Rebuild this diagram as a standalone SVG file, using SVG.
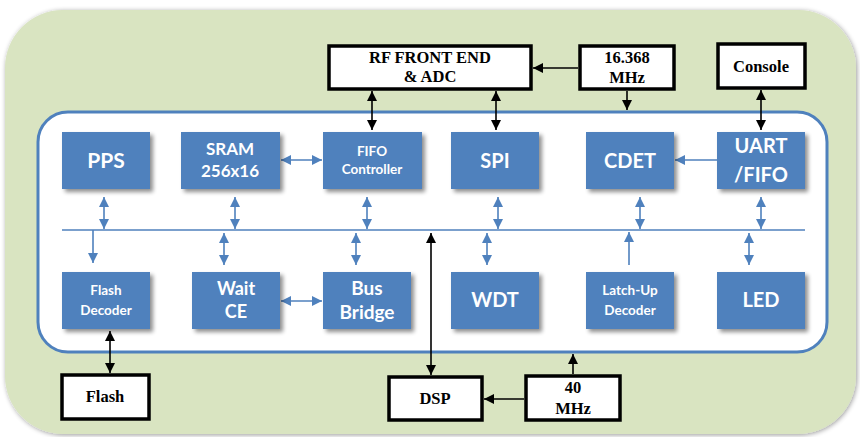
<svg xmlns="http://www.w3.org/2000/svg" width="860" height="437" viewBox="0 0 860 437">
<defs>
<filter id="sh" x="-20%" y="-20%" width="150%" height="150%"><feGaussianBlur in="SourceAlpha" stdDeviation="2"/><feOffset dx="3" dy="3"/><feComponentTransfer><feFuncA type="linear" slope="0.45"/></feComponentTransfer><feMerge><feMergeNode/><feMergeNode in="SourceGraphic"/></feMerge></filter>
<filter id="osh" x="-5%" y="-5%" width="110%" height="110%"><feGaussianBlur in="SourceAlpha" stdDeviation="2.5"/><feOffset dx="1" dy="1"/><feComponentTransfer><feFuncA type="linear" slope="0.4"/></feComponentTransfer><feMerge><feMergeNode/><feMergeNode in="SourceGraphic"/></feMerge></filter>
<marker id="ab" viewBox="0 0 10 10" refX="10" refY="5" markerWidth="10" markerHeight="10" markerUnits="userSpaceOnUse" orient="auto-start-reverse"><path d="M0,0 L10,5 L0,10 z" fill="#4F81BD"/></marker>
<marker id="ak" viewBox="0 0 10 10" refX="10" refY="5" markerWidth="10" markerHeight="10" markerUnits="userSpaceOnUse" orient="auto-start-reverse"><path d="M0,0 L10,5 L0,10 z" fill="#000"/></marker>
</defs>
<style>
.blk{fill:#4F81BD;filter:url(#sh)}
.bt{fill:#fff;font-family:Lato,"Open Sans",sans-serif;font-weight:bold;text-anchor:middle}
.ext{fill:#fff;stroke:#000;stroke-width:3.5}
.et{fill:#000;font-family:"Liberation Serif",serif;font-weight:bold;font-size:16.5px;text-anchor:middle}
.bl{stroke:#4F81BD;stroke-width:1.6;fill:none}
.bd{stroke:#4F81BD;stroke-width:1.6;fill:none;marker-start:url(#ab);marker-end:url(#ab)}
.b1{stroke:#4F81BD;stroke-width:1.6;fill:none;marker-end:url(#ab)}
.kd{stroke:#000;stroke-width:1.6;fill:none;marker-start:url(#ak);marker-end:url(#ak)}
.k1{stroke:#000;stroke-width:1.6;fill:none;marker-end:url(#ak)}
</style>
<rect x="5" y="10" width="851" height="424" rx="58" fill="#D9E4C1" filter="url(#osh)"/>
<rect x="38" y="112" width="789" height="240" rx="30" fill="#fff" stroke="#4F81BD" stroke-width="3"/>
<g id="connectors">
<line class="bl" x1="62" y1="230" x2="805" y2="230"/>
<line class="bd" x1="104" y1="197" x2="104" y2="229"/>
<line class="bd" x1="235" y1="197" x2="235" y2="229"/>
<line class="bd" x1="367" y1="197" x2="367" y2="229"/>
<line class="bd" x1="498" y1="197" x2="498" y2="229"/>
<line class="bd" x1="640" y1="197" x2="640" y2="229"/>
<line class="bd" x1="761" y1="197" x2="761" y2="229"/>
<line class="b1" x1="93" y1="230" x2="93" y2="263"/>
<line class="bd" x1="224" y1="233" x2="224" y2="265"/>
<line class="bd" x1="356" y1="233" x2="356" y2="265"/>
<line class="bd" x1="487" y1="233" x2="487" y2="265"/>
<line class="b1" x1="629" y1="265" x2="629" y2="232"/>
<line class="bd" x1="749" y1="233" x2="749" y2="265"/>
<line class="bd" x1="281" y1="160" x2="322" y2="160"/>
<line class="bd" x1="281" y1="301" x2="322" y2="301"/>
<line class="b1" x1="717" y1="160" x2="675" y2="160"/>
<line class="kd" x1="372" y1="91" x2="372" y2="130"/>
<line class="kd" x1="496" y1="91" x2="496" y2="130"/>
<line class="k1" x1="578" y1="68" x2="533" y2="68"/>
<line class="k1" x1="627" y1="91" x2="627" y2="110"/>
<line class="kd" x1="761" y1="90" x2="761" y2="130"/>
<line class="kd" x1="110" y1="331" x2="110" y2="373"/>
<line class="kd" x1="431" y1="233" x2="431" y2="375"/>
<line class="k1" x1="524" y1="399" x2="484" y2="399"/>
<line class="k1" x1="573" y1="374" x2="573" y2="354"/>
</g>
<g id="pps"><rect class="blk" x="62" y="132" width="88" height="57"/><text class="bt" x="106" y="168" font-size="21">PPS</text></g>
<g id="sram"><rect class="blk" x="181" y="132" width="99" height="57"/><text class="bt" x="230" y="155" font-size="17">SRAM</text><text class="bt" x="230" y="177" font-size="17">256x16</text></g>
<g id="fifo"><rect class="blk" x="323" y="132" width="99" height="57"/><text class="bt" x="372" y="156" font-size="13.5">FIFO</text><text class="bt" x="372" y="174" font-size="13.5">Controller</text></g>
<g id="spi"><rect class="blk" x="451" y="132" width="88" height="57"/><text class="bt" x="495" y="168" font-size="20">SPI</text></g>
<g id="cdet"><rect class="blk" x="586" y="132" width="88" height="57"/><text class="bt" x="630" y="168" font-size="20">CDET</text></g>
<g id="uart"><rect class="blk" x="717" y="132" width="88" height="57"/><text class="bt" x="761" y="153" font-size="20">UART</text><text class="bt" x="761" y="182" font-size="20">/FIFO</text></g>
<g id="flashdec"><rect class="blk" x="62" y="272" width="88" height="57"/><text class="bt" x="106" y="295" font-size="13.5">Flash</text><text class="bt" x="106" y="315" font-size="13.5">Decoder</text></g>
<g id="waitce"><rect class="blk" x="192" y="272" width="88" height="57"/><text class="bt" x="236" y="295" font-size="18">Wait</text><text class="bt" x="236" y="318" font-size="18">CE</text></g>
<g id="busbridge"><rect class="blk" x="323" y="272" width="88" height="57"/><text class="bt" x="367" y="295" font-size="19">Bus</text><text class="bt" x="367" y="319" font-size="19">Bridge</text></g>
<g id="wdt"><rect class="blk" x="451" y="272" width="88" height="57"/><text class="bt" x="495" y="307" font-size="20">WDT</text></g>
<g id="latchup"><rect class="blk" x="586" y="272" width="88" height="57"/><text class="bt" x="630" y="295" font-size="13.5">Latch-Up</text><text class="bt" x="630" y="315" font-size="13.5">Decoder</text></g>
<g id="led"><rect class="blk" x="717" y="272" width="88" height="57"/><text class="bt" x="761" y="307" font-size="20">LED</text></g>
<g id="rf"><rect class="ext" x="329" y="46" width="202" height="43"/><text class="et" x="430" y="63">RF FRONT END</text><text class="et" x="430" y="82">&amp; ADC</text></g>
<g id="clk16"><rect class="ext" x="580" y="46" width="94" height="43"/><text class="et" x="627" y="63">16.368</text><text class="et" x="627" y="83">MHz</text></g>
<g id="console"><rect class="ext" x="718" y="44" width="87" height="44"/><text class="et" x="761" y="72">Console</text></g>
<g id="flash"><rect class="ext" x="62" y="375" width="87" height="44"/><text class="et" x="105" y="402">Flash</text></g>
<g id="dsp"><rect class="ext" x="389" y="377" width="93" height="43"/><text class="et" x="435" y="404">DSP</text></g>
<g id="clk40"><rect class="ext" x="526" y="376" width="94" height="44"/><text class="et" x="573" y="393">40</text><text class="et" x="573" y="414">MHz</text></g>
</svg>
